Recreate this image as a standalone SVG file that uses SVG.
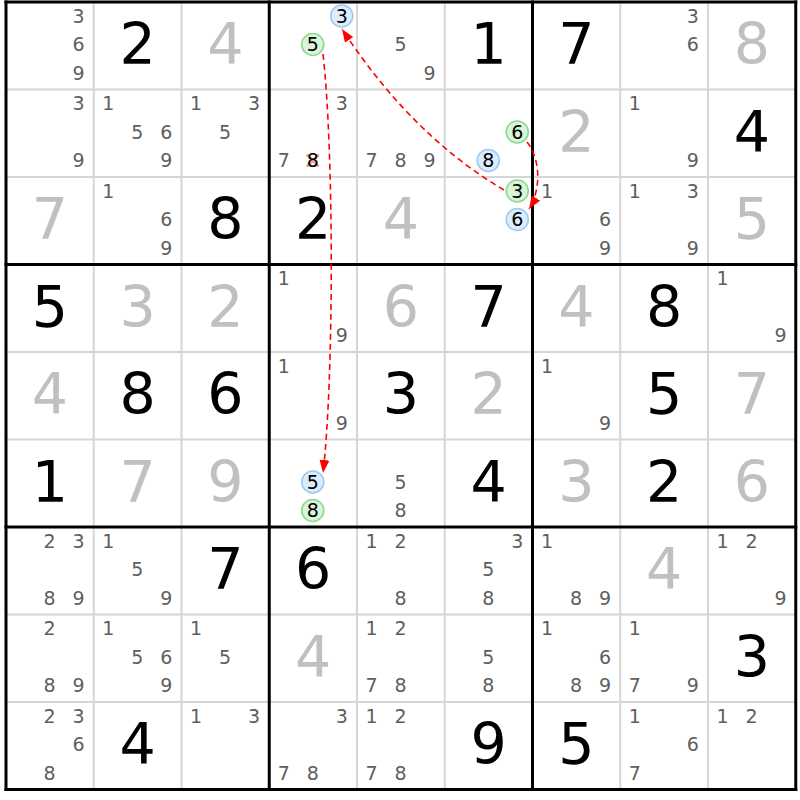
<svg xmlns="http://www.w3.org/2000/svg" width="800" height="800" viewBox="0 0 800 800">
<style>
text{font-family:"DejaVu Sans","Liberation Sans",sans-serif}
.c{font-size:19px;fill:#5e5e5e;text-anchor:middle}
.k{font-size:19px;fill:#000;text-anchor:middle}
.g{font-size:57px;fill:#000;text-anchor:middle}
.s{font-size:57px;fill:#c0c0c0;text-anchor:middle}
.bl{fill:#dbecfc;stroke:#9ccaf2;stroke-width:1.6}
.gr{fill:#d9f5d9;stroke:#8fd98f;stroke-width:1.6}
.thin{stroke:#d6d6d6;stroke-width:2}
.thick{stroke:#000;stroke-width:3}
.lnk{fill:none;stroke:#ff0000;stroke-width:1.6;stroke-dasharray:6,4;marker-end:url(#ah)}
.x{stroke:#f29a9a;stroke-width:2.5}
</style>
<defs>
<marker id="ah" markerUnits="userSpaceOnUse" markerWidth="14" markerHeight="10" refX="13" refY="5" orient="auto">
<path d="M0,0 L13,5 L0,10 z" fill="#ff0000"/>
</marker>
</defs>
<rect width="800" height="800" fill="#fff"/>
<g id="grid">
<line class="thin" x1="93.75" y1="2" x2="93.75" y2="789.5"/>
<line class="thin" x1="181.5" y1="2" x2="181.5" y2="789.5"/>
<line class="thin" x1="357" y1="2" x2="357" y2="789.5"/>
<line class="thin" x1="444.75" y1="2" x2="444.75" y2="789.5"/>
<line class="thin" x1="620.25" y1="2" x2="620.25" y2="789.5"/>
<line class="thin" x1="708" y1="2" x2="708" y2="789.5"/>
<line class="thin" x1="6" y1="89.5" x2="795.75" y2="89.5"/>
<line class="thin" x1="6" y1="177" x2="795.75" y2="177"/>
<line class="thin" x1="6" y1="352" x2="795.75" y2="352"/>
<line class="thin" x1="6" y1="439.5" x2="795.75" y2="439.5"/>
<line class="thin" x1="6" y1="614.5" x2="795.75" y2="614.5"/>
<line class="thin" x1="6" y1="702" x2="795.75" y2="702"/>
<line class="thick" x1="6" y1="0.5" x2="6" y2="791"/>
<line class="thick" x1="269.25" y1="0.5" x2="269.25" y2="791"/>
<line class="thick" x1="532.5" y1="0.5" x2="532.5" y2="791"/>
<line class="thick" x1="795.75" y1="0.5" x2="795.75" y2="791"/>
<line class="thick" x1="4.5" y1="2" x2="797.25" y2="2"/>
<line class="thick" x1="4.5" y1="264.5" x2="797.25" y2="264.5"/>
<line class="thick" x1="4.5" y1="527" x2="797.25" y2="527"/>
<line class="thick" x1="4.5" y1="789.5" x2="797.25" y2="789.5"/>
</g>
<!-- Row 0 -->
<g id="r0c0" transform="translate(6,2)"><text class="c" x="72.5" y="20.5">3</text><text class="c" x="72.5" y="49">6</text><text class="c" x="72.5" y="77.5">9</text></g>
<g id="r0c1" transform="translate(93.75,2)"><text class="g" x="44" y="62">2</text></g>
<g id="r0c2" transform="translate(181.5,2)"><text class="s" x="44" y="62">4</text></g>
<g id="r0c3" transform="translate(269.25,2)"><circle class="bl" cx="72.5" cy="14" r="11"/><text class="k" x="72.5" y="20.5">3</text><circle class="gr" cx="43.5" cy="42.5" r="11"/><text class="k" x="43.5" y="49">5</text></g>
<g id="r0c4" transform="translate(357,2)"><text class="c" x="43.5" y="49">5</text><text class="c" x="72.5" y="77.5">9</text></g>
<g id="r0c5" transform="translate(444.75,2)"><text class="g" x="44" y="62">1</text></g>
<g id="r0c6" transform="translate(532.5,2)"><text class="g" x="44" y="62">7</text></g>
<g id="r0c7" transform="translate(620.25,2)"><text class="c" x="72.5" y="20.5">3</text><text class="c" x="72.5" y="49">6</text></g>
<g id="r0c8" transform="translate(708,2)"><text class="s" x="44" y="62">8</text></g>
<!-- Row 1 -->
<g id="r1c0" transform="translate(6,89.5)"><text class="c" x="72.5" y="20.5">3</text><text class="c" x="72.5" y="77.5">9</text></g>
<g id="r1c1" transform="translate(93.75,89.5)"><text class="c" x="14.5" y="20.5">1</text><text class="c" x="43.5" y="49">5</text><text class="c" x="72.5" y="49">6</text><text class="c" x="72.5" y="77.5">9</text></g>
<g id="r1c2" transform="translate(181.5,89.5)"><text class="c" x="14.5" y="20.5">1</text><text class="c" x="72.5" y="20.5">3</text><text class="c" x="43.5" y="49">5</text></g>
<g id="r1c3" transform="translate(269.25,89.5)"><text class="c" x="72.5" y="20.5">3</text><text class="c" x="14.5" y="77.5">7</text><line class="x" x1="37.5" y1="65" x2="49.5" y2="77"/><line class="x" x1="49.5" y1="65" x2="37.5" y2="77"/><text class="k" x="43.5" y="77.5">8</text></g>
<g id="r1c4" transform="translate(357,89.5)"><text class="c" x="14.5" y="77.5">7</text><text class="c" x="43.5" y="77.5">8</text><text class="c" x="72.5" y="77.5">9</text></g>
<g id="r1c5" transform="translate(444.75,89.5)"><circle class="gr" cx="72.5" cy="42.5" r="11"/><text class="k" x="72.5" y="49">6</text><circle class="bl" cx="43.5" cy="71" r="11"/><text class="k" x="43.5" y="77.5">8</text></g>
<g id="r1c6" transform="translate(532.5,89.5)"><text class="s" x="44" y="62">2</text></g>
<g id="r1c7" transform="translate(620.25,89.5)"><text class="c" x="14.5" y="20.5">1</text><text class="c" x="72.5" y="77.5">9</text></g>
<g id="r1c8" transform="translate(708,89.5)"><text class="g" x="44" y="62">4</text></g>
<!-- Row 2 -->
<g id="r2c0" transform="translate(6,177)"><text class="s" x="44" y="62">7</text></g>
<g id="r2c1" transform="translate(93.75,177)"><text class="c" x="14.5" y="20.5">1</text><text class="c" x="72.5" y="49">6</text><text class="c" x="72.5" y="77.5">9</text></g>
<g id="r2c2" transform="translate(181.5,177)"><text class="g" x="44" y="62">8</text></g>
<g id="r2c3" transform="translate(269.25,177)"><text class="g" x="44" y="62">2</text></g>
<g id="r2c4" transform="translate(357,177)"><text class="s" x="44" y="62">4</text></g>
<g id="r2c5" transform="translate(444.75,177)"><circle class="gr" cx="72.5" cy="14" r="11"/><text class="k" x="72.5" y="20.5">3</text><circle class="bl" cx="72.5" cy="42.5" r="11"/><text class="k" x="72.5" y="49">6</text></g>
<g id="r2c6" transform="translate(532.5,177)"><text class="c" x="14.5" y="20.5">1</text><text class="c" x="72.5" y="49">6</text><text class="c" x="72.5" y="77.5">9</text></g>
<g id="r2c7" transform="translate(620.25,177)"><text class="c" x="14.5" y="20.5">1</text><text class="c" x="72.5" y="20.5">3</text><text class="c" x="72.5" y="77.5">9</text></g>
<g id="r2c8" transform="translate(708,177)"><text class="s" x="44" y="62">5</text></g>
<!-- Row 3 -->
<g id="r3c0" transform="translate(6,264.5)"><text class="g" x="44" y="62">5</text></g>
<g id="r3c1" transform="translate(93.75,264.5)"><text class="s" x="44" y="62">3</text></g>
<g id="r3c2" transform="translate(181.5,264.5)"><text class="s" x="44" y="62">2</text></g>
<g id="r3c3" transform="translate(269.25,264.5)"><text class="c" x="14.5" y="20.5">1</text><text class="c" x="72.5" y="77.5">9</text></g>
<g id="r3c4" transform="translate(357,264.5)"><text class="s" x="44" y="62">6</text></g>
<g id="r3c5" transform="translate(444.75,264.5)"><text class="g" x="44" y="62">7</text></g>
<g id="r3c6" transform="translate(532.5,264.5)"><text class="s" x="44" y="62">4</text></g>
<g id="r3c7" transform="translate(620.25,264.5)"><text class="g" x="44" y="62">8</text></g>
<g id="r3c8" transform="translate(708,264.5)"><text class="c" x="14.5" y="20.5">1</text><text class="c" x="72.5" y="77.5">9</text></g>
<!-- Row 4 -->
<g id="r4c0" transform="translate(6,352)"><text class="s" x="44" y="62">4</text></g>
<g id="r4c1" transform="translate(93.75,352)"><text class="g" x="44" y="62">8</text></g>
<g id="r4c2" transform="translate(181.5,352)"><text class="g" x="44" y="62">6</text></g>
<g id="r4c3" transform="translate(269.25,352)"><text class="c" x="14.5" y="20.5">1</text><text class="c" x="72.5" y="77.5">9</text></g>
<g id="r4c4" transform="translate(357,352)"><text class="g" x="44" y="62">3</text></g>
<g id="r4c5" transform="translate(444.75,352)"><text class="s" x="44" y="62">2</text></g>
<g id="r4c6" transform="translate(532.5,352)"><text class="c" x="14.5" y="20.5">1</text><text class="c" x="72.5" y="77.5">9</text></g>
<g id="r4c7" transform="translate(620.25,352)"><text class="g" x="44" y="62">5</text></g>
<g id="r4c8" transform="translate(708,352)"><text class="s" x="44" y="62">7</text></g>
<!-- Row 5 -->
<g id="r5c0" transform="translate(6,439.5)"><text class="g" x="44" y="62">1</text></g>
<g id="r5c1" transform="translate(93.75,439.5)"><text class="s" x="44" y="62">7</text></g>
<g id="r5c2" transform="translate(181.5,439.5)"><text class="s" x="44" y="62">9</text></g>
<g id="r5c3" transform="translate(269.25,439.5)"><circle class="bl" cx="43.5" cy="42.5" r="11"/><text class="k" x="43.5" y="49">5</text><circle class="gr" cx="43.5" cy="71" r="11"/><text class="k" x="43.5" y="77.5">8</text></g>
<g id="r5c4" transform="translate(357,439.5)"><text class="c" x="43.5" y="49">5</text><text class="c" x="43.5" y="77.5">8</text></g>
<g id="r5c5" transform="translate(444.75,439.5)"><text class="g" x="44" y="62">4</text></g>
<g id="r5c6" transform="translate(532.5,439.5)"><text class="s" x="44" y="62">3</text></g>
<g id="r5c7" transform="translate(620.25,439.5)"><text class="g" x="44" y="62">2</text></g>
<g id="r5c8" transform="translate(708,439.5)"><text class="s" x="44" y="62">6</text></g>
<!-- Row 6 -->
<g id="r6c0" transform="translate(6,527)"><text class="c" x="43.5" y="20.5">2</text><text class="c" x="72.5" y="20.5">3</text><text class="c" x="43.5" y="77.5">8</text><text class="c" x="72.5" y="77.5">9</text></g>
<g id="r6c1" transform="translate(93.75,527)"><text class="c" x="14.5" y="20.5">1</text><text class="c" x="43.5" y="49">5</text><text class="c" x="72.5" y="77.5">9</text></g>
<g id="r6c2" transform="translate(181.5,527)"><text class="g" x="44" y="62">7</text></g>
<g id="r6c3" transform="translate(269.25,527)"><text class="g" x="44" y="62">6</text></g>
<g id="r6c4" transform="translate(357,527)"><text class="c" x="14.5" y="20.5">1</text><text class="c" x="43.5" y="20.5">2</text><text class="c" x="43.5" y="77.5">8</text></g>
<g id="r6c5" transform="translate(444.75,527)"><text class="c" x="72.5" y="20.5">3</text><text class="c" x="43.5" y="49">5</text><text class="c" x="43.5" y="77.5">8</text></g>
<g id="r6c6" transform="translate(532.5,527)"><text class="c" x="14.5" y="20.5">1</text><text class="c" x="43.5" y="77.5">8</text><text class="c" x="72.5" y="77.5">9</text></g>
<g id="r6c7" transform="translate(620.25,527)"><text class="s" x="44" y="62">4</text></g>
<g id="r6c8" transform="translate(708,527)"><text class="c" x="14.5" y="20.5">1</text><text class="c" x="43.5" y="20.5">2</text><text class="c" x="72.5" y="77.5">9</text></g>
<!-- Row 7 -->
<g id="r7c0" transform="translate(6,614.5)"><text class="c" x="43.5" y="20.5">2</text><text class="c" x="43.5" y="77.5">8</text><text class="c" x="72.5" y="77.5">9</text></g>
<g id="r7c1" transform="translate(93.75,614.5)"><text class="c" x="14.5" y="20.5">1</text><text class="c" x="43.5" y="49">5</text><text class="c" x="72.5" y="49">6</text><text class="c" x="72.5" y="77.5">9</text></g>
<g id="r7c2" transform="translate(181.5,614.5)"><text class="c" x="14.5" y="20.5">1</text><text class="c" x="43.5" y="49">5</text></g>
<g id="r7c3" transform="translate(269.25,614.5)"><text class="s" x="44" y="62">4</text></g>
<g id="r7c4" transform="translate(357,614.5)"><text class="c" x="14.5" y="20.5">1</text><text class="c" x="43.5" y="20.5">2</text><text class="c" x="14.5" y="77.5">7</text><text class="c" x="43.5" y="77.5">8</text></g>
<g id="r7c5" transform="translate(444.75,614.5)"><text class="c" x="43.5" y="49">5</text><text class="c" x="43.5" y="77.5">8</text></g>
<g id="r7c6" transform="translate(532.5,614.5)"><text class="c" x="14.5" y="20.5">1</text><text class="c" x="72.5" y="49">6</text><text class="c" x="43.5" y="77.5">8</text><text class="c" x="72.5" y="77.5">9</text></g>
<g id="r7c7" transform="translate(620.25,614.5)"><text class="c" x="14.5" y="20.5">1</text><text class="c" x="14.5" y="77.5">7</text><text class="c" x="72.5" y="77.5">9</text></g>
<g id="r7c8" transform="translate(708,614.5)"><text class="g" x="44" y="62">3</text></g>
<!-- Row 8 -->
<g id="r8c0" transform="translate(6,702)"><text class="c" x="43.5" y="20.5">2</text><text class="c" x="72.5" y="20.5">3</text><text class="c" x="72.5" y="49">6</text><text class="c" x="43.5" y="77.5">8</text></g>
<g id="r8c1" transform="translate(93.75,702)"><text class="g" x="44" y="62">4</text></g>
<g id="r8c2" transform="translate(181.5,702)"><text class="c" x="14.5" y="20.5">1</text><text class="c" x="72.5" y="20.5">3</text></g>
<g id="r8c3" transform="translate(269.25,702)"><text class="c" x="72.5" y="20.5">3</text><text class="c" x="14.5" y="77.5">7</text><text class="c" x="43.5" y="77.5">8</text></g>
<g id="r8c4" transform="translate(357,702)"><text class="c" x="14.5" y="20.5">1</text><text class="c" x="43.5" y="20.5">2</text><text class="c" x="14.5" y="77.5">7</text><text class="c" x="43.5" y="77.5">8</text></g>
<g id="r8c5" transform="translate(444.75,702)"><text class="g" x="44" y="62">9</text></g>
<g id="r8c6" transform="translate(532.5,702)"><text class="g" x="44" y="62">5</text></g>
<g id="r8c7" transform="translate(620.25,702)"><text class="c" x="14.5" y="20.5">1</text><text class="c" x="72.5" y="49">6</text><text class="c" x="14.5" y="77.5">7</text></g>
<g id="r8c8" transform="translate(708,702)"><text class="c" x="14.5" y="20.5">1</text><text class="c" x="43.5" y="20.5">2</text></g>
<!-- Links -->
<g id="links">
<path class="lnk" d="M323,54 C334,150 334,380 323,473"/>
<path class="lnk" d="M504,190 Q412,136 342,29"/>
<path class="lnk" d="M527,142 C541,160 541,190 529,209"/>
</g>
</svg>
